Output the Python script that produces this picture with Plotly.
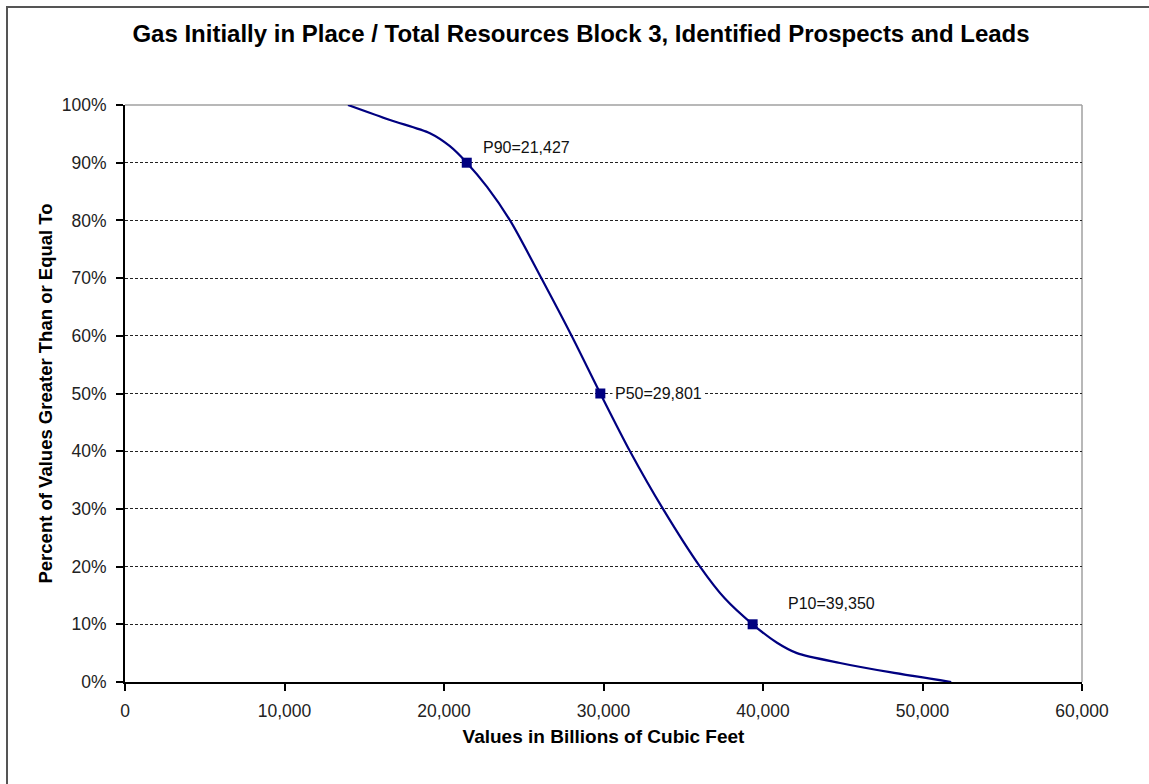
import plotly.graph_objects as go

# Curve (cumulative probability, percent of values >= x)
curve_x = [13980, 16615, 19120, 20350, 21427, 22700, 24140, 26100,
           28000, 29801, 31660, 33730, 36050, 37600, 39350, 40880,
           42130, 44830, 47960, 51800]
curve_y = [100, 97.4, 95.1, 92.9, 90, 85.8, 80, 70,
           60, 50, 40, 30, 20, 14.5, 10, 6.8,
           5.0, 3.3, 1.7, 0]

# Key percentiles
p_x = [21427, 29801, 39350]
p_y = [90, 50, 10]
p_labels = ["P90=21,427", "P50=29,801", "P10=39,350"]

x_ticks = [0, 10000, 20000, 30000, 40000, 50000, 60000]
x_ticktext = ["0", "10,000", "20,000", "30,000", "40,000", "50,000", "60,000"]
y_ticks = [0, 10, 20, 30, 40, 50, 60, 70, 80, 90, 100]
y_ticktext = ["0%", "10%", "20%", "30%", "40%", "50%", "60%", "70%", "80%", "90%", "100%"]

NAVY = "#000080"
FONT = "Liberation Sans, Arial, sans-serif"

fig = go.Figure()
fig.add_trace(go.Scatter(
    x=curve_x, y=curve_y, mode="lines",
    line=dict(color=NAVY, width=2.2, shape="spline", smoothing=0.8),
    hoverinfo="skip", showlegend=False, cliponaxis=True,
))
fig.add_trace(go.Scatter(
    x=p_x, y=p_y, mode="markers",
    marker=dict(symbol="square", size=10, color=NAVY),
    showlegend=False, cliponaxis=False,
))

shifts = [(13, 15, None), (12, 0, "white"), (32, 21, None)]
for xv, yv, lab, (dx, dy, bg) in zip(p_x, p_y, p_labels, shifts):
    fig.add_annotation(
        x=xv, y=yv, text=lab, showarrow=False, xanchor="left", yanchor="middle",
        xshift=dx, yshift=dy, bgcolor=bg if bg else "rgba(0,0,0,0)",
        font=dict(family=FONT, size=16, color="#111111"), borderpad=2,
    )

fig.update_layout(
    width=1149, height=784,
    margin=dict(l=125, r=67, t=105, b=102),
    paper_bgcolor="white", plot_bgcolor="white",
    title=dict(
        text="<b>Gas Initially in Place / Total Resources Block 3, Identified Prospects and Leads</b>",
        x=(133 + 1029) / 2 / 1149, xref="container", xanchor="center",
        y=1 - 34 / 784, yanchor="middle",
        font=dict(family=FONT, size=24, color="#000000"),
    ),
    xaxis=dict(
        range=[0, 60000], tickvals=x_ticks, ticktext=x_ticktext,
        showgrid=False, zeroline=False,
        showline=True, linecolor="#000000", linewidth=2,
        ticks="outside", ticklen=7, tickwidth=2, tickcolor="#000000",
        ticklabelstandoff=5,
        tickfont=dict(family=FONT, size=17.5, color="#222222"),
        title=dict(text="<b>Values in Billions of Cubic Feet</b>", standoff=10,
                   font=dict(family=FONT, size=19, color="#000000")),
        fixedrange=True,
    ),
    yaxis=dict(
        range=[0, 100], tickvals=y_ticks, ticktext=y_ticktext,
        showgrid=True, gridcolor="#222222", gridwidth=1, griddash="3px,2px",
        zeroline=False,
        showline=True, linecolor="#000000", linewidth=2,
        ticks="outside", ticklen=7, tickwidth=2, tickcolor="#000000",
        ticklabelstandoff=6,
        tickfont=dict(family=FONT, size=17.5, color="#222222"),
        title=dict(text="<b>Percent of Values Greater Than or Equal To</b>", standoff=4,
                   font=dict(family=FONT, size=18.5, color="#000000")),
        fixedrange=True,
    ),
    shapes=[
        # gray top and right plot border
        dict(type="line", xref="paper", yref="paper", x0=0, x1=1, y0=1, y1=1,
             line=dict(color="#a0a0a0", width=1.5), layer="below"),
        dict(type="line", xref="paper", yref="paper", x0=1, x1=1, y0=0, y1=1,
             line=dict(color="#a0a0a0", width=1.5), layer="below"),
        # outer chart frame
        dict(type="rect", xref="paper", yref="paper",
             x0=(7 - 125) / 957, x1=1.3, y0=-0.4, y1=1 + (105 - 7) / 577,
             line=dict(color="#555555", width=2), layer="below"),
    ],
)

fig.write_html("out.html", config={"displayModeBar": False},
               post_script="document.body.style.margin='0';")
